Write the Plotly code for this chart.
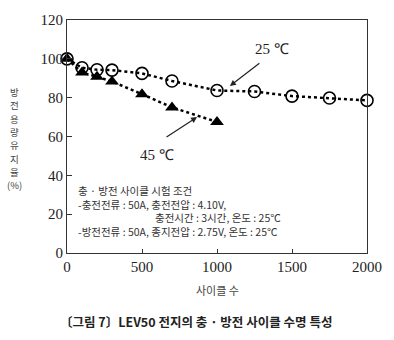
import plotly.graph_objects as go

# Cycle-life data for the LEV50 cell
cycles_25 = [0, 100, 200, 300, 500, 700, 1000, 1250, 1500, 1750, 2000]
retention_25 = [100, 95.4, 94.4, 94.2, 92.5, 88.6, 83.7, 83.2, 80.8, 79.8, 78.6]

cycles_45 = [0, 100, 200, 300, 500, 700, 1000]
retention_45 = [100, 92.9, 90.8, 88.3, 81.8, 75.0, 67.5]

x_ticks = [0, 500, 1000, 1500, 2000]
y_ticks = [0, 20, 40, 60, 80, 100, 120]

y_title_chars = ["방", "전", "용", "량", "유", "지", "율", "(%)"]

SERIF = "Liberation Serif"
SANS = "Noto Sans CJK KR"

W, H = 394, 340
L, R, T, B = 67, 25, 17, 87
pw, ph = W - L - R, H - T - B


def px_to_paper(px, py):
    return (px - L) / pw, (H - B - py) / ph


fig = go.Figure()

fig.add_trace(go.Scatter(
    x=cycles_25, y=retention_25, mode="lines+markers",
    line=dict(color="black", width=2.5, dash="dot"),
    marker=dict(symbol="circle-open", size=12, color="black", line=dict(width=1.6)),
    cliponaxis=False, showlegend=False,
))
fig.add_trace(go.Scatter(
    x=cycles_45, y=retention_45, mode="lines+markers",
    line=dict(color="black", width=2.5, dash="dot"),
    marker=dict(symbol="triangle-up", size=12, color="black"),
    cliponaxis=False, showlegend=False,
))

axis_style = dict(
    ticks="inside", tickcolor="#333", showline=True, linecolor="#333",
    linewidth=1.2, mirror=True, showgrid=False, zeroline=False,
    tickfont=dict(family=SERIF, size=15, color="#222"),
)
fig.update_xaxes(range=[0, 2000], tickvals=x_ticks, ticklen=4, **axis_style)
fig.update_yaxes(range=[0, 120], tickvals=y_ticks, ticklen=5, **axis_style)

annotations = [
    # series labels with arrows
    dict(x=1086, y=86, ax=31, ay=-24, text="", showarrow=True, arrowhead=2,
         arrowsize=1, arrowwidth=1.2, arrowcolor="#222"),
    dict(x=1364, y=105, text="25 ℃", showarrow=False,
         font=dict(family=SERIF, size=15, color="#222")),
    dict(x=867, y=70, ax=-32, ay=21, text="", showarrow=True, arrowhead=2,
         arrowsize=1, arrowwidth=1.2, arrowcolor="#222"),
    dict(x=600, y=50.5, text="45 ℃", showarrow=False,
         font=dict(family=SERIF, size=15, color="#222")),
]

# test conditions block inside the plot area
condition_lines = [
    (65, 32.4, "충 · 방전 사이클 시험 조건", 10.5),
    (65, 25.0, "-충전전류 : 50A, 충전전압 : 4.10V,", 10.5),
    (580, 18.2, "충전시간 : 3시간, 온도 : 25℃", 10.5),
    (65, 11.2, "-방전전류 : 50A, 종지전압 : 2.75V, 온도 : 25℃", 10.5),
]
for cx, cy, txt, sz in condition_lines:
    annotations.append(dict(
        x=cx, y=cy, xanchor="left", showarrow=False, borderpad=0,
        text=txt, font=dict(family=SANS, size=sz, color="#333"),
    ))


def paper_label(px, py, text, size, color, bold=False, pad=1):
    xp, yp = px_to_paper(px, py)
    return dict(x=xp, y=yp, xref="paper", yref="paper",
                xanchor="center", yanchor="middle", showarrow=False,
                borderpad=pad,
                text=f"<b>{text}</b>" if bold else text,
                font=dict(family=SANS, size=size, color=color))


# vertical, character-stacked y-axis title
for i, ch in enumerate(y_title_chars):
    annotations.append(paper_label(14, 90 + 13.5 * i, ch, 9.5, "#444", pad=0))

annotations.append(paper_label(218, 290, "사이클 수", 11, "#444"))
annotations.append(paper_label(
    197, 322, "〔그림 7〕LEV50 전지의 충 · 방전 사이클 수명 특성",
    12.5, "#222", bold=True))

fig.update_layout(
    width=W, height=H, margin=dict(l=L, r=R, t=T, b=B),
    paper_bgcolor="white", plot_bgcolor="white",
    annotations=annotations,
)

fig.write_html("out.html")
